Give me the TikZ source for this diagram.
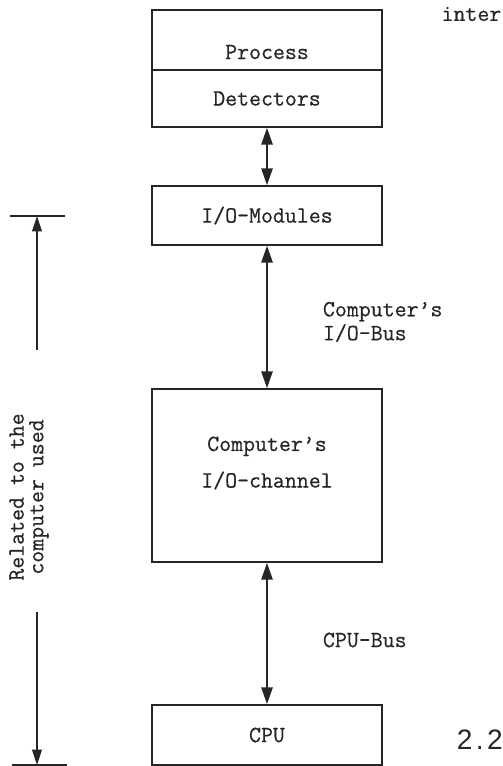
\documentclass[tikz,border=0pt]{standalone}
\usepackage{fontspec}
\setsansfont{Liberation Sans}
\newfontfamily\typew[FakeBold=0.6]{Latin Modern Mono}
\usetikzlibrary{arrows.meta, positioning, calc}

\begin{document}
\begin{tikzpicture}[
    x=0.025cm, y=-0.025cm,
    box/.style={draw=black!85, line width=1.1pt, minimum width=5.75cm, inner sep=0pt},
    txt/.style={font=\fontsize{16.5}{19}\selectfont\typew, text=black!85},
    arr/.style={{Stealth[length=12pt,width=8pt,inset=0pt]}-{Stealth[length=12pt,width=8pt,inset=0pt]},
                line width=1.4pt, black!85},
    dimarr/.style={-{Stealth[length=11pt,width=7pt,inset=0pt]}, line width=0.8pt, black!85}
]
\useasboundingbox (0,0) rectangle (503,766);
% boxes of the chain, top to bottom
\node[box, minimum height=1.5cm]            (proc) at (267,40)    {};
\node[txt]                                  (proctext) at (267,52) {Process};
\node[box, minimum height=1.425cm, txt]     (det)  at (267,98.5)  {Detectors};
\node[box, minimum height=1.475cm, txt]     (mod)  at (267,215.5) {I/O-Modules};
\node[box, minimum height=4.325cm]          (chan) at (267,475.5) {};
\node[txt, align=center] (chantext) at (267,463) {Computer’s\\[7pt]I/O-channel};
\node[box, minimum height=1.5cm, txt]       (cpu)  at (267,735)   {CPU};
\draw[arr] (det.south) -- (mod.north);
\draw[arr] (mod.south) -- (chan.north);
\draw[arr] (chan.south) -- (cpu.north);
% bus labels
\node[txt, anchor=west, align=left] (iobus) at (318,322) {Computer’s\\[-2pt]I/O-Bus};
\node[txt, anchor=west] (cpubus) at (318,640) {CPU-Bus};
% dimension on the left
\coordinate (dimtop) at (37,216);
\coordinate (dimbot) at (37,765);
\coordinate (uptail) at (37,350);
\coordinate (dntail) at (37,612);
\draw[line width=1.1pt, black!85] (dimtop) ++(-27,0) -- ++(55,0);
\draw[line width=1.1pt, black!85] (dimbot) ++(-25,0) -- ++(55,0);
\draw[dimarr] (uptail) -- (dimtop);
\draw[dimarr] (dntail) -- (dimbot);
\node[txt, rotate=90, align=center] (related) at (29,497) {Related to the\\[-5pt]computer used};
% page furniture
\node[font=\sffamily\fontsize{20}{24}\selectfont\addfontfeature{LetterSpace=12}, text=black!85, anchor=west]
  (fignum) at (452,740) {2.2};
\node[txt, anchor=east, inner xsep=1pt] (inter) at (503,14) {inter};
\end{tikzpicture}
\end{document}
